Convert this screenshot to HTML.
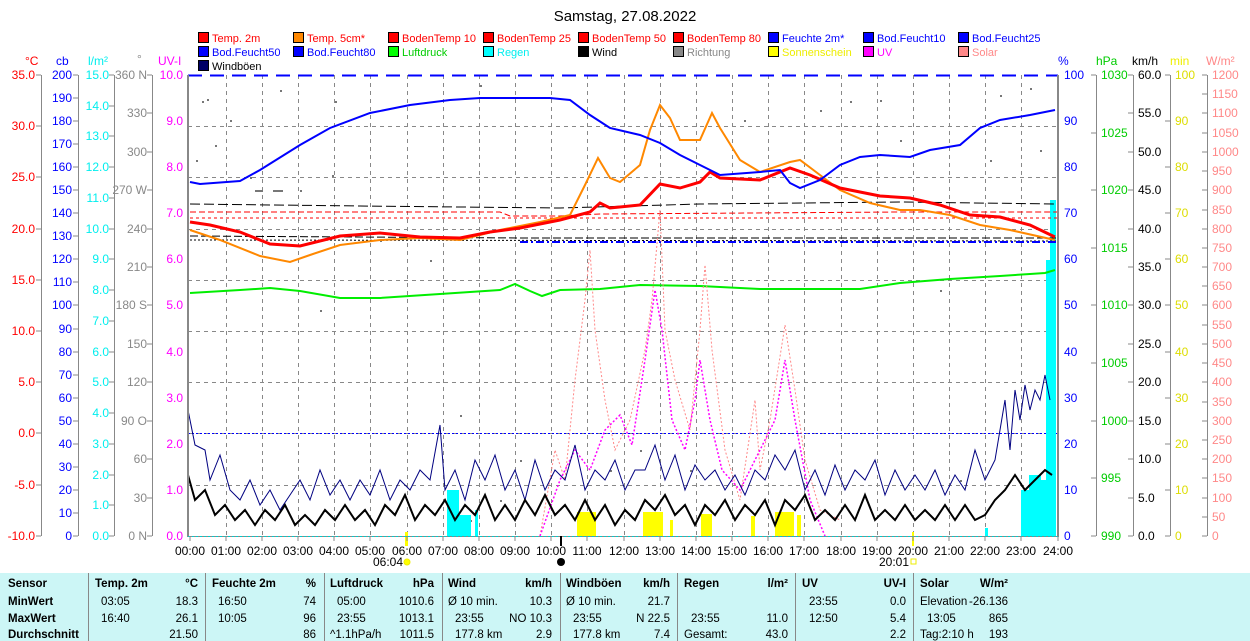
<!DOCTYPE html>
<html><head><meta charset="utf-8"><style>
body{margin:0;background:#fff;width:1250px;height:641px;overflow:hidden;font-family:"Liberation Sans",sans-serif}
svg{position:absolute;left:0;top:0}
text{font-family:"Liberation Sans",sans-serif;font-size:12px}
.lg text{font-size:11px}
.tb{position:absolute;left:0;top:573px;width:1250px;height:68px;background:#ccf6f6;font-size:11.5px}
.tb div{position:absolute}
.sep{position:absolute;top:0!important;height:68px;width:1px;background:#888}
b{font-weight:bold}
</style></head><body>
<svg width="1250" height="573" viewBox="0 0 1250 573">
<text x="625" y="21" text-anchor="middle" style="font-size:15px">Samstag, 27.08.2022</text>
<g stroke="#000" stroke-width="1">
<rect x="198.5" y="32.5" width="10" height="10" fill="#f00"/><rect x="293.5" y="32.5" width="10" height="10" fill="#f80"/><rect x="388.5" y="32.5" width="10" height="10" fill="#f00"/><rect x="483.5" y="32.5" width="10" height="10" fill="#f00"/><rect x="578.5" y="32.5" width="10" height="10" fill="#f00"/><rect x="673.5" y="32.5" width="10" height="10" fill="#f00"/><rect x="768.5" y="32.5" width="10" height="10" fill="#00f"/><rect x="863.5" y="32.5" width="10" height="10" fill="#00f"/><rect x="958.5" y="32.5" width="10" height="10" fill="#00f"/>
<rect x="198.5" y="46.5" width="10" height="10" fill="#00f"/><rect x="293.5" y="46.5" width="10" height="10" fill="#00f"/><rect x="388.5" y="46.5" width="10" height="10" fill="#0f0"/><rect x="483.5" y="46.5" width="10" height="10" fill="#0ff"/><rect x="578.5" y="46.5" width="10" height="10" fill="#000"/><rect x="673.5" y="46.5" width="10" height="10" fill="#888"/><rect x="768.5" y="46.5" width="10" height="10" fill="#ff0"/><rect x="863.5" y="46.5" width="10" height="10" fill="#f0f"/><rect x="958.5" y="46.5" width="10" height="10" fill="#f88"/>
<rect x="198.5" y="60.5" width="10" height="10" fill="#006"/>
</g>
<g class="lg">
<text x="212" y="42" fill="#f00">Temp. 2m</text><text x="307" y="42" fill="#f00">Temp. 5cm*</text><text x="402" y="42" fill="#f00">BodenTemp 10</text><text x="497" y="42" fill="#f00">BodenTemp 25</text><text x="592" y="42" fill="#f00">BodenTemp 50</text><text x="687" y="42" fill="#f00">BodenTemp 80</text><text x="782" y="42" fill="#00f">Feuchte 2m*</text><text x="877" y="42" fill="#00f">Bod.Feucht10</text><text x="972" y="42" fill="#00f">Bod.Feucht25</text>
<text x="212" y="56" fill="#00f">Bod.Feucht50</text><text x="307" y="56" fill="#00f">Bod.Feucht80</text><text x="402" y="56" fill="#0c0">Luftdruck</text><text x="497" y="56" fill="#0ee">Regen</text><text x="592" y="56" fill="#000">Wind</text><text x="687" y="56" fill="#888">Richtung</text><text x="782" y="56" fill="#ee0">Sonnenschein</text><text x="877" y="56" fill="#f0f">UV</text><text x="972" y="56" fill="#f88">Solar</text>
<text x="212" y="70" fill="#000">Windböen</text>
</g>
<text x="25" y="65" fill="#f00">°C</text><text x="56" y="65" fill="#00f">cb</text><text x="88" y="65" fill="#0ee">l/m²</text><text x="137" y="63" fill="#888">°</text><text x="158" y="65" fill="#f0f">UV-I</text>
<text x="1058" y="65" fill="#00f">%</text><text x="1096" y="65" fill="#0c0">hPa</text><text x="1132" y="65" fill="#000">km/h</text><text x="1170" y="65" fill="#ee0">min</text><text x="1206" y="65" fill="#f88">W/m²</text>
<g stroke="#888" stroke-width="1">
<line x1="41.5" y1="75" x2="41.5" y2="536"/><line x1="78.5" y1="75" x2="78.5" y2="536"/><line x1="114.5" y1="75" x2="114.5" y2="536"/><line x1="152.5" y1="75" x2="152.5" y2="536"/>
<line x1="1096.5" y1="75" x2="1096.5" y2="536"/><line x1="1133.5" y1="75" x2="1133.5" y2="536"/><line x1="1170.5" y1="75" x2="1170.5" y2="536"/><line x1="1207.5" y1="75" x2="1207.5" y2="536"/>
</g>
<g stroke="#888">
<path d="M36 75h5M36 126h5M36 177h5M36 229h5M36 280h5M36 331h5M36 382h5M36 433h5M36 485h5M36 536h5"/>
<path d="M73 75h5M73 98h5M73 121h5M73 144h5M73 167h5M73 190h5M73 213h5M73 236h5M73 259h5M73 282h5M73 305h5M73 329h5M73 352h5M73 375h5M73 398h5M73 421h5M73 444h5M73 467h5M73 490h5M73 513h5M73 536h5"/>
<path d="M109 75h5M109 106h5M109 136h5M109 167h5M109 198h5M109 229h5M109 259h5M109 290h5M109 321h5M109 352h5M109 382h5M109 413h5M109 444h5M109 475h5M109 505h5M109 536h5"/>
<path d="M147 75h5M147 113h5M147 152h5M147 190h5M147 229h5M147 267h5M147 305h5M147 344h5M147 382h5M147 421h5M147 459h5M147 498h5M147 536h5"/>
<path d="M1091 75h5M1091 133h5M1091 190h5M1091 248h5M1091 305h5M1091 363h5M1091 421h5M1091 478h5M1091 536h5"/>
<path d="M1128 75h5M1128 113h5M1128 152h5M1128 190h5M1128 229h5M1128 267h5M1128 305h5M1128 344h5M1128 382h5M1128 421h5M1128 459h5M1128 498h5M1128 536h5"/>
<path d="M1165 75h5M1165 121h5M1165 167h5M1165 213h5M1165 259h5M1165 305h5M1165 352h5M1165 398h5M1165 444h5M1165 490h5M1165 536h5"/>
<path d="M1202 75h5M1202 94h5M1202 113h5M1202 133h5M1202 152h5M1202 171h5M1202 190h5M1202 210h5M1202 229h5M1202 248h5M1202 267h5M1202 286h5M1202 305h5M1202 325h5M1202 344h5M1202 363h5M1202 382h5M1202 402h5M1202 421h5M1202 440h5M1202 459h5M1202 478h5M1202 498h5M1202 517h5M1202 536h5"/>
</g>
<g fill="#f00" text-anchor="end"><text x="35" y="79">35.0</text><text x="35" y="130">30.0</text><text x="35" y="181">25.0</text><text x="35" y="233">20.0</text><text x="35" y="284">15.0</text><text x="35" y="335">10.0</text><text x="35" y="386">5.0</text><text x="35" y="437">0.0</text><text x="35" y="489">-5.0</text><text x="35" y="540">-10.0</text></g>
<g fill="#00f" text-anchor="end"><text x="72" y="79">200</text><text x="72" y="102">190</text><text x="72" y="125">180</text><text x="72" y="148">170</text><text x="72" y="171">160</text><text x="72" y="194">150</text><text x="72" y="217">140</text><text x="72" y="240">130</text><text x="72" y="263">120</text><text x="72" y="286">110</text><text x="72" y="309">100</text><text x="72" y="333">90</text><text x="72" y="356">80</text><text x="72" y="379">70</text><text x="72" y="402">60</text><text x="72" y="425">50</text><text x="72" y="448">40</text><text x="72" y="471">30</text><text x="72" y="494">20</text><text x="72" y="517">10</text><text x="72" y="540">0</text></g>
<g fill="#0ee" text-anchor="end"><text x="109" y="79">15.0</text><text x="109" y="110">14.0</text><text x="109" y="140">13.0</text><text x="109" y="171">12.0</text><text x="109" y="202">11.0</text><text x="109" y="233">10.0</text><text x="109" y="263">9.0</text><text x="109" y="294">8.0</text><text x="109" y="325">7.0</text><text x="109" y="356">6.0</text><text x="109" y="386">5.0</text><text x="109" y="417">4.0</text><text x="109" y="448">3.0</text><text x="109" y="479">2.0</text><text x="109" y="509">1.0</text><text x="109" y="540">0.0</text></g>
<g fill="#888" text-anchor="end"><text x="147" y="79">360 N</text><text x="147" y="117">330</text><text x="147" y="156">300</text><text x="147" y="194">270 W</text><text x="147" y="233">240</text><text x="147" y="271">210</text><text x="147" y="309">180 S</text><text x="147" y="348">150</text><text x="147" y="386">120</text><text x="147" y="425">90 O</text><text x="147" y="463">60</text><text x="147" y="502">30</text><text x="147" y="540">0 N</text></g>
<g fill="#f0f" text-anchor="end"><text x="183" y="79">10.0</text><text x="183" y="125">9.0</text><text x="183" y="171">8.0</text><text x="183" y="217">7.0</text><text x="183" y="263">6.0</text><text x="183" y="309">5.0</text><text x="183" y="356">4.0</text><text x="183" y="402">3.0</text><text x="183" y="448">2.0</text><text x="183" y="494">1.0</text><text x="183" y="540">0.0</text></g>
<g fill="#00f"><text x="1064" y="79">100</text><text x="1064" y="125">90</text><text x="1064" y="171">80</text><text x="1064" y="217">70</text><text x="1064" y="263">60</text><text x="1064" y="309">50</text><text x="1064" y="356">40</text><text x="1064" y="402">30</text><text x="1064" y="448">20</text><text x="1064" y="494">10</text><text x="1064" y="540">0</text></g>
<g fill="#0c0"><text x="1101" y="79">1030</text><text x="1101" y="137">1025</text><text x="1101" y="194">1020</text><text x="1101" y="252">1015</text><text x="1101" y="309">1010</text><text x="1101" y="367">1005</text><text x="1101" y="425">1000</text><text x="1101" y="482">995</text><text x="1101" y="540">990</text></g>
<g fill="#000"><text x="1138" y="79">60.0</text><text x="1138" y="117">55.0</text><text x="1138" y="156">50.0</text><text x="1138" y="194">45.0</text><text x="1138" y="233">40.0</text><text x="1138" y="271">35.0</text><text x="1138" y="309">30.0</text><text x="1138" y="348">25.0</text><text x="1138" y="386">20.0</text><text x="1138" y="425">15.0</text><text x="1138" y="463">10.0</text><text x="1138" y="502">5.0</text><text x="1138" y="540">0.0</text></g>
<g fill="#dd0"><text x="1175" y="79">100</text><text x="1175" y="125">90</text><text x="1175" y="171">80</text><text x="1175" y="217">70</text><text x="1175" y="263">60</text><text x="1175" y="309">50</text><text x="1175" y="356">40</text><text x="1175" y="402">30</text><text x="1175" y="448">20</text><text x="1175" y="494">10</text><text x="1175" y="540">0</text></g>
<g fill="#f88"><text x="1212" y="79">1200</text><text x="1212" y="98">1150</text><text x="1212" y="117">1100</text><text x="1212" y="137">1050</text><text x="1212" y="156">1000</text><text x="1212" y="175">950</text><text x="1212" y="194">900</text><text x="1212" y="214">850</text><text x="1212" y="233">800</text><text x="1212" y="252">750</text><text x="1212" y="271">700</text><text x="1212" y="290">650</text><text x="1212" y="309">600</text><text x="1212" y="329">550</text><text x="1212" y="348">500</text><text x="1212" y="367">450</text><text x="1212" y="386">400</text><text x="1212" y="406">350</text><text x="1212" y="425">300</text><text x="1212" y="444">250</text><text x="1212" y="463">200</text><text x="1212" y="482">150</text><text x="1212" y="502">100</text><text x="1212" y="521">50</text><text x="1212" y="540">0</text></g>
<g stroke="#888" stroke-dasharray="4,4" stroke-width="1">
<path d="M188 126.5H1058M188 177.5H1058M188 229.5H1058M188 280.5H1058M188 331.5H1058M188 382.5H1058M188 433.5H1058M188 485.5H1058"/>
<path d="M226.5 75V536M262.5 75V536M298.5 75V536M334.5 75V536M370.5 75V536M407.5 75V536M443.5 75V536M479.5 75V536M515.5 75V536M551.5 75V536M587.5 75V536M624.5 75V536M660.5 75V536M696.5 75V536M732.5 75V536M768.5 75V536M804.5 75V536M841.5 75V536M877.5 75V536M913.5 75V536M949.5 75V536M985.5 75V536M1021.5 75V536"/>
</g>
<line x1="188" y1="75.5" x2="1058" y2="75.5" stroke="#00f" stroke-width="2" stroke-dasharray="14,8"/>
<line x1="188" y1="433.5" x2="1058" y2="433.5" stroke="#00f" stroke-dasharray="2,2"/>
<g fill="#777">
<rect x="202" y="101" width="2" height="2"/><rect x="207" y="99" width="2" height="2"/><rect x="196" y="160" width="2" height="2"/><rect x="250" y="177" width="2" height="2"/><rect x="255" y="190" width="8" height="2"/><rect x="273" y="190" width="10" height="2"/><rect x="300" y="190" width="2" height="2"/><rect x="332" y="175" width="2" height="2"/><rect x="335" y="101" width="2" height="2"/><rect x="320" y="310" width="2" height="2"/><rect x="380" y="240" width="2" height="2"/><rect x="430" y="260" width="2" height="2"/><rect x="460" y="415" width="2" height="2"/><rect x="470" y="520" width="2" height="2"/><rect x="500" y="500" width="2" height="2"/><rect x="520" y="460" width="2" height="2"/><rect x="610" y="470" width="2" height="2"/><rect x="640" y="450" width="2" height="2"/><rect x="690" y="470" width="2" height="2"/><rect x="744" y="120" width="2" height="2"/><rect x="820" y="110" width="2" height="2"/><rect x="850" y="101" width="2" height="2"/><rect x="900" y="140" width="2" height="2"/><rect x="940" y="290" width="2" height="2"/><rect x="960" y="480" width="2" height="2"/><rect x="1000" y="95" width="2" height="2"/><rect x="1030" y="88" width="2" height="2"/><rect x="990" y="160" width="2" height="2"/><rect x="880" y="100" width="2" height="2"/><rect x="1040" y="150" width="2" height="2"/><rect x="280" y="90" width="2" height="2"/><rect x="230" y="120" width="2" height="2"/><rect x="480" y="85" width="2" height="2"/><rect x="215" y="145" width="2" height="2"/>
</g>
<g fill="#ff0"><rect x="577" y="512" width="19" height="24"/><rect x="643" y="512" width="20" height="24"/><rect x="670" y="520" width="3" height="16"/><rect x="701" y="514" width="11" height="22"/><rect x="751" y="516" width="4" height="20"/><rect x="775" y="512" width="19" height="24"/><rect x="797" y="515" width="4" height="21"/><rect x="405" y="532" width="3" height="14"/><rect x="912" y="532" width="2" height="14"/></g>
<g fill="#0ff"><rect x="447" y="490" width="12" height="46"/><rect x="459" y="515" width="12" height="21"/><rect x="475" y="510" width="3" height="26"/><rect x="1021" y="490" width="8" height="46"/><rect x="1029" y="475" width="12" height="61"/><rect x="1041" y="480" width="5" height="56"/><rect x="1046" y="260" width="4" height="276"/><rect x="1050" y="200" width="6" height="336"/><rect x="985" y="528" width="3" height="8"/></g>
<polyline fill="none" stroke="#f00" stroke-dasharray="6,3" points="190,212 500,212 510,216 560,216 600,214 900,212 1057,212"/>
<polyline fill="none" stroke="#f00" stroke-dasharray="3,3" points="190,218 1057,218"/>
<polyline fill="none" stroke="#000" stroke-dasharray="10,4" points="190,204 360,206 560,208 700,204 900,202 1057,204"/>
<polyline fill="none" stroke="#000" stroke-dasharray="8,3" points="190,236 520,238 700,238 1057,238"/>
<polyline fill="none" stroke="#000" stroke-dasharray="2,2" points="190,240 1057,241"/>
<polyline fill="none" stroke="#00f" stroke-width="2" stroke-dasharray="8,3,2,3" points="520,242 1057,242"/>
<polyline fill="none" stroke="#0e0" stroke-width="2" points="190,293 240,290 270,288 300,291 340,298 380,298 440,294 500,290 515,284 530,291 542,296 560,290 600,289 640,285 700,286 760,289 860,289 900,283 950,279 1000,276 1030,274 1045,273 1055,270"/>
<polyline fill="none" stroke="#f88" stroke-dasharray="2,2" points="540,536 555,450 565,480 575,380 585,300 590,250 595,330 605,400 615,450 630,420 645,350 652,300 660,210 665,330 675,380 690,430 700,330 705,265 712,350 725,450 740,500 755,400 760,470 770,420 785,325 795,390 805,460 820,510 840,520"/>
<polyline fill="none" stroke="#f0f" stroke-width="1.5" stroke-dasharray="2,2" points="540,536 560,480 575,450 590,470 605,430 620,415 632,445 645,360 655,290 662,330 672,420 685,450 695,400 700,360 710,420 722,470 740,490 760,450 775,420 785,360 795,420 810,500 825,536"/>
<polyline fill="none" stroke="#000080" points="188,410 195,445 205,450 210,480 220,455 230,490 240,500 250,480 260,505 270,490 280,510 290,495 300,480 310,500 320,470 330,495 340,480 350,500 360,480 370,495 380,470 390,500 400,480 410,490 420,470 430,480 440,425 445,490 455,470 465,500 475,460 485,480 495,455 505,490 515,470 525,500 535,460 545,490 555,470 565,480 575,445 585,490 595,470 605,480 615,460 625,490 635,470 645,470 655,445 665,480 675,455 685,490 695,465 705,480 715,470 725,490 735,475 745,495 755,470 765,480 775,455 785,470 795,450 805,490 815,470 825,495 835,465 845,490 855,470 865,480 875,460 885,495 895,470 905,490 915,475 925,490 935,470 945,495 955,475 965,490 975,450 985,480 995,460 1005,400 1010,450 1015,390 1020,420 1025,385 1030,410 1035,390 1040,400 1045,375 1050,400"/>
<polyline fill="none" stroke="#000" stroke-width="2" points="188,475 195,500 205,490 215,515 225,505 235,520 245,510 255,525 265,510 275,520 285,505 295,525 305,515 315,525 325,510 335,520 345,505 355,520 365,510 375,525 385,505 395,515 405,495 415,520 425,505 435,515 445,500 455,520 465,505 475,515 485,495 495,520 505,505 515,520 525,500 535,515 545,495 555,515 565,505 575,520 585,500 595,520 605,505 615,525 625,510 635,520 645,500 655,510 665,495 675,515 685,505 695,525 705,505 715,515 725,500 735,520 745,505 755,515 765,500 775,525 785,500 795,510 805,495 815,520 825,510 835,520 845,505 855,520 865,495 875,520 885,510 895,520 905,505 915,520 925,510 935,520 945,505 955,520 965,505 975,520 985,515 995,500 1005,490 1015,475 1025,490 1035,480 1045,470 1052,475"/>
<polyline fill="none" stroke="#f80" stroke-width="2" points="190,230 220,240 260,256 290,262 310,255 340,245 380,240 420,238 460,240 500,230 540,222 570,215 585,185 598,158 610,178 620,182 640,165 650,130 660,105 670,118 680,140 700,140 712,113 720,128 740,160 760,172 790,162 800,160 820,175 840,190 870,203 900,210 920,210 950,215 980,225 1010,230 1055,240"/>
<polyline fill="none" stroke="#f00" stroke-width="3" points="190,222 210,225 240,232 270,244 300,246 340,236 380,233 420,237 460,238 490,232 520,228 560,220 590,212 600,203 610,208 640,205 660,184 680,188 700,182 710,172 720,178 760,180 790,168 810,175 840,188 880,196 910,198 940,205 970,215 1000,217 1030,225 1055,237"/>
<polyline fill="none" stroke="#00f" stroke-width="2" points="190,182 200,184 240,181 260,170 300,145 330,128 370,113 410,105 450,100 480,98 550,98 570,100 590,115 610,128 640,135 660,143 680,155 700,165 720,175 760,172 780,170 790,183 800,188 820,180 840,165 860,157 880,155 910,157 930,150 960,145 980,128 1000,120 1030,115 1055,110"/>
<line x1="188" y1="75" x2="188" y2="537" stroke="#888" stroke-width="2"/>
<line x1="1058" y1="75" x2="1058" y2="537" stroke="#888" stroke-width="2"/>
<line x1="188" y1="536.5" x2="1058" y2="536.5" stroke="#888"/>
<line x1="188" y1="536.5" x2="1058" y2="536.5" stroke="#0cc" stroke-dasharray="2,2"/>
<line x1="561" y1="536" x2="561" y2="546" stroke="#000" stroke-width="2"/>
<g stroke="#888"><path d="M190 536v5M226 536v5M262 536v5M298 536v5M334 536v5M370 536v5M407 536v5M443 536v5M479 536v5M515 536v5M551 536v5M587 536v5M624 536v5M660 536v5M696 536v5M732 536v5M768 536v5M804 536v5M841 536v5M877 536v5M913 536v5M949 536v5M985 536v5M1021 536v5M1058 536v5"/></g>
<g text-anchor="middle" fill="#000"><text x="190" y="555">00:00</text><text x="226" y="555">01:00</text><text x="262" y="555">02:00</text><text x="298" y="555">03:00</text><text x="334" y="555">04:00</text><text x="370" y="555">05:00</text><text x="407" y="555">06:00</text><text x="443" y="555">07:00</text><text x="479" y="555">08:00</text><text x="515" y="555">09:00</text><text x="551" y="555">10:00</text><text x="587" y="555">11:00</text><text x="624" y="555">12:00</text><text x="660" y="555">13:00</text><text x="696" y="555">14:00</text><text x="732" y="555">15:00</text><text x="768" y="555">16:00</text><text x="804" y="555">17:00</text><text x="841" y="555">18:00</text><text x="877" y="555">19:00</text><text x="913" y="555">20:00</text><text x="949" y="555">21:00</text><text x="985" y="555">22:00</text><text x="1021" y="555">23:00</text><text x="1058" y="555">24:00</text>
<text x="388" y="566">06:04</text><text x="894" y="566">20:01</text></g>
<circle cx="407" cy="562" r="3" fill="#ff0" stroke="#ee0"/><rect x="911" y="559" width="5" height="5" fill="none" stroke="#ee0"/>
<circle cx="561" cy="562" r="4" fill="#000"/>
</svg>
<div class="tb">
<div class="sep" style="left:88px"></div><div class="sep" style="left:205px"></div><div class="sep" style="left:324px"></div><div class="sep" style="left:442px"></div><div class="sep" style="left:560px"></div><div class="sep" style="left:677px"></div><div class="sep" style="left:795px"></div><div class="sep" style="left:913px"></div>
<div style="left:8px;top:5px"><b>Sensor</b></div><div style="left:8px;top:23px"><b>MinWert</b></div><div style="left:8px;top:40px"><b>MaxWert</b></div><div style="left:8px;top:56px"><b>Durchschnitt</b></div>
<div style="left:95px;top:5px"><b>Temp. 2m</b></div><div style="right:1052px;top:5px"><b>°C</b></div><div style="left:101px;top:23px">03:05</div><div style="right:1052px;top:23px">18.3</div><div style="left:101px;top:40px">16:40</div><div style="right:1052px;top:40px">26.1</div><div style="right:1052px;top:56px">21.50</div>
<div style="left:212px;top:5px"><b>Feuchte 2m</b></div><div style="right:934px;top:5px"><b>%</b></div><div style="left:218px;top:23px">16:50</div><div style="right:934px;top:23px">74</div><div style="left:218px;top:40px">10:05</div><div style="right:934px;top:40px">96</div><div style="right:934px;top:56px">86</div>
<div style="left:330px;top:5px"><b>Luftdruck</b></div><div style="right:816px;top:5px"><b>hPa</b></div><div style="left:337px;top:23px">05:00</div><div style="right:816px;top:23px">1010.6</div><div style="left:337px;top:40px">23:55</div><div style="right:816px;top:40px">1013.1</div><div style="left:330px;top:56px">^1.1hPa/h</div><div style="right:816px;top:56px">1011.5</div>
<div style="left:448px;top:5px"><b>Wind</b></div><div style="right:698px;top:5px"><b>km/h</b></div><div style="left:448px;top:23px">Ø 10 min.</div><div style="right:698px;top:23px">10.3</div><div style="left:455px;top:40px">23:55</div><div style="right:698px;top:40px">NO 10.3</div><div style="left:455px;top:56px">177.8 km</div><div style="right:698px;top:56px">2.9</div>
<div style="left:566px;top:5px"><b>Windböen</b></div><div style="right:580px;top:5px"><b>km/h</b></div><div style="left:566px;top:23px">Ø 10 min.</div><div style="right:580px;top:23px">21.7</div><div style="left:573px;top:40px">23:55</div><div style="right:580px;top:40px">N 22.5</div><div style="left:573px;top:56px">177.8 km</div><div style="right:580px;top:56px">7.4</div>
<div style="left:684px;top:5px"><b>Regen</b></div><div style="right:462px;top:5px"><b>l/m²</b></div><div style="left:691px;top:40px">23:55</div><div style="right:462px;top:40px">11.0</div><div style="left:684px;top:56px">Gesamt:</div><div style="right:462px;top:56px">43.0</div>
<div style="left:802px;top:5px"><b>UV</b></div><div style="right:344px;top:5px"><b>UV-I</b></div><div style="left:809px;top:23px">23:55</div><div style="right:344px;top:23px">0.0</div><div style="left:809px;top:40px">12:50</div><div style="right:344px;top:40px">5.4</div><div style="right:344px;top:56px">2.2</div>
<div style="left:920px;top:5px"><b>Solar</b></div><div style="right:242px;top:5px"><b>W/m²</b></div><div style="left:920px;top:23px">Elevation</div><div style="right:242px;top:23px">-26.136</div><div style="left:927px;top:40px">13:05</div><div style="right:242px;top:40px">865</div><div style="left:920px;top:56px">Tag:2:10 h</div><div style="right:242px;top:56px">193</div>
</div>
</body></html>
